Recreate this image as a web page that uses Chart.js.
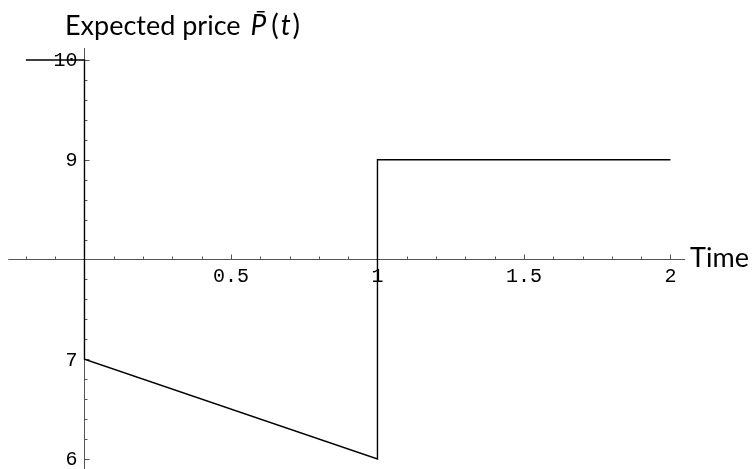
<!DOCTYPE html>
<html>
<head>
<meta charset="utf-8">
<title>Expected price</title>
<script src="https://cdn.jsdelivr.net/npm/chart.js@4.4.1/dist/chart.umd.min.js"></script>
<style>
  html, body { margin: 0; padding: 0; background: #fff; }
  #wrap { position: relative; width: 754px; height: 469px; }
</style>
</head>
<body>
<div id="wrap"><canvas id="priceChart"></canvas></div>
<script>
// === DATA ===
const times = [-0.2, 0, 0, 1, 1, 2];
const prices = [10, 10, 7, 6, 9, 9];

const xTickValues = [0.5, 1, 1.5, 2];
const xTickLabels = ['0.5', '1', '1.5', '2'];
const yTickValues = [6, 7, 9, 10];
const yTickLabels = ['6', '7', '9', '10'];

// axes cross here
const originX = 0;
const originY = 8;

const AXIS_COLOR = '#555';
const TICK_FONT = '20px "Liberation Mono", monospace';
const LABEL_FONT = '27px Lato, sans-serif';
const MATH_FONT = '28px Lato, sans-serif';

// === CROSSED AXES, TICKS AND LABELS ===
const crossedAxes = {
  id: 'crossedAxes',
  beforeDatasetsDraw(chart) {
    const ctx = chart.ctx;
    const xs = chart.scales.x;
    const ys = chart.scales.y;
    const area = chart.chartArea;
    const x0 = Math.round(xs.getPixelForValue(originX)) + 0.5;
    const y0 = Math.round(ys.getPixelForValue(originY)) + 0.5;

    ctx.save();
    ctx.strokeStyle = AXIS_COLOR;
    ctx.lineWidth = 1;

    // axis lines
    ctx.beginPath();
    ctx.moveTo(area.left, y0);
    ctx.lineTo(area.right, y0);
    ctx.moveTo(x0, area.top);
    ctx.lineTo(x0, area.bottom);
    ctx.stroke();

    // x ticks, every 0.1, longer on the labelled ones
    ctx.beginPath();
    for (let i = -2; i <= 20; i++) {
      if (i === 0) continue;
      const px = Math.round(xs.getPixelForValue(i / 10)) + 0.5;
      const len = (i % 5 === 0) ? 5 : 3;
      ctx.moveTo(px, y0);
      ctx.lineTo(px, y0 - len);
    }
    // y ticks, every 0.2
    for (let i = 30; i <= 50; i++) {
      if (i === 40) continue;
      const py = Math.round(ys.getPixelForValue(i / 5)) + 0.5;
      const len = (i % 5 === 0) ? 5 : 3;
      ctx.moveTo(x0, py);
      ctx.lineTo(x0 + len, py);
    }
    ctx.stroke();

    // tick labels
    ctx.fillStyle = '#000';
    ctx.font = TICK_FONT;
    ctx.textAlign = 'center';
    ctx.textBaseline = 'top';
    xTickValues.forEach(function(v, i) {
      ctx.fillText(xTickLabels[i], xs.getPixelForValue(v), y0 + 7);
    });
    ctx.textAlign = 'right';
    ctx.textBaseline = 'middle';
    yTickValues.forEach(function(v, i) {
      ctx.fillText(yTickLabels[i], x0 - 7, ys.getPixelForValue(v) + 1);
    });
    ctx.restore();
  },
  afterDraw(chart) {
    const ctx = chart.ctx;
    const ys = chart.scales.y;
    const area = chart.chartArea;
    const y0 = ys.getPixelForValue(originY);

    ctx.save();
    ctx.fillStyle = '#000';
    ctx.textBaseline = 'alphabetic';
    ctx.textAlign = 'left';

    // axis label on the right end of the time axis
    ctx.font = LABEL_FONT;
    ctx.fillText('Time', area.right + 5, y0 + 8);

    // y label: Expected price P̄(t)
    let x = 65;
    const base = 35;
    const pieces = [
      ['Expected price ', LABEL_FONT, 3],
      ['P', 'italic ' + MATH_FONT, 5],
      ['(', MATH_FONT, 2],
      ['t', 'italic ' + MATH_FONT, 2],
      [')', MATH_FONT, 0]
    ];
    pieces.forEach(function(p) {
      ctx.font = p[1];
      ctx.fillText(p[0], x, base);
      const w = ctx.measureText(p[0]).width;
      if (p[0] === 'P') {
        // bar over the P
        ctx.fillRect(x + w * 0.4, base - 24, w * 0.5, 1.5);
      }
      x += w + p[2];
    });
    ctx.restore();
  }
};

// === CHART ===
const ctx = document.getElementById('priceChart').getContext('2d');
new Chart(ctx, {
  type: 'scatter',
  data: {
    datasets: [{
      data: times.map(function(t, i) { return { x: t, y: prices[i] }; }),
      showLine: true,
      borderColor: '#000',
      borderWidth: 1.4,
      pointRadius: 0,
      tension: 0,
      fill: false
    }]
  },
  options: {
    responsive: true,
    maintainAspectRatio: false,
    animation: false,
    layout: {
      padding: { left: 8.3, right: 68.9, top: 48, bottom: 0 }
    },
    plugins: {
      legend: { display: false },
      tooltip: { enabled: false }
    },
    scales: {
      x: { type: 'linear', min: -0.26, max: 2.05, display: false },
      y: { type: 'linear', min: 5.9, max: 10.12, display: false }
    }
  },
  plugins: [crossedAxes]
});
</script>
</body>
</html>
